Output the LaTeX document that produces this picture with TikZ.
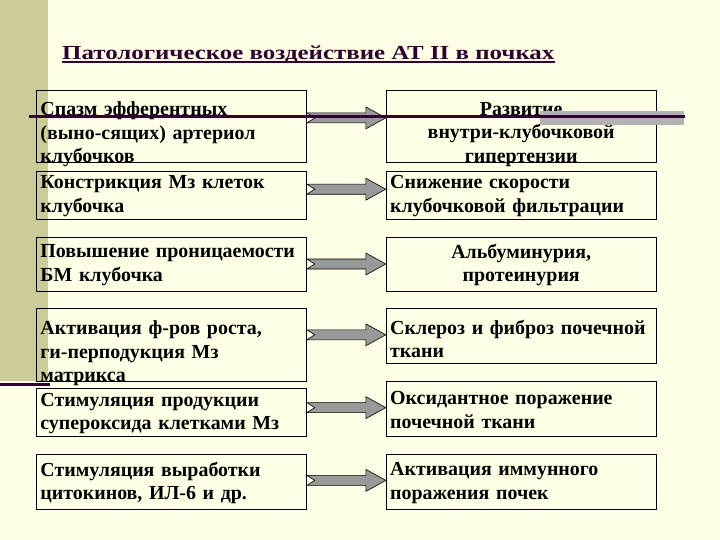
\documentclass[tikz,border=0pt]{standalone}
\usepackage{fontspec}
\setmainfont{Liberation Serif}
\newfontfamily\titlefont[FakeStretch=1.25]{Liberation Serif}
\usetikzlibrary{positioning, calc}
\definecolor{bgcol}{HTML}{FFFFE5}
\definecolor{bandcol}{HTML}{CCCC99}
\definecolor{darkcol}{HTML}{330033}
\definecolor{arrowcol}{HTML}{999999}
\definecolor{barcol}{HTML}{B2B2B2}

\begin{document}
\begin{tikzpicture}[
  x=1bp, y=-1bp,
  box/.style={
    draw, line width=0.8bp,
    minimum width=270bp, text width=262bp,
    inner xsep=4bp, inner ysep=0pt,
    font=\bfseries\fontsize{20}{23.5}\selectfont
  },
  lbox/.style={box, align=left},
  cbox/.style={box, align=center},
  textdrop/.style={execute at end node={\endgraf\kern-#1}},
  textdrop/.default=2bp,
  title/.style={text=darkcol, inner sep=0pt,
                font=\titlefont\bfseries\fontsize{20}{24}\selectfont},
  blockarrow/.style={
    draw=black, fill=arrowcol, line width=0.6bp,
    to path={let \p1=(\tikztostart), \p2=(\tikztotarget) in
      (\x1,{\y1+5bp}) -- ({\x2-20bp},{\y1+5bp}) -- ({\x2-20bp},{\y1+11bp})
      -- (\x2,\y1) -- ({\x2-20bp},{\y1-11bp}) -- ({\x2-20bp},{\y1-5bp})
      -- (\x1,{\y1-5bp}) -- ({\x1+8bp},\y1) -- cycle}
  },
  thickline/.style={draw=darkcol, line width=3bp}
]

%% -- slide background -----------------------------------------
\useasboundingbox (0,0) rectangle (720,540);
\fill[bgcol] (0,0) rectangle (720,540);
\fill[bandcol] (0,0) rectangle (48,381);
\draw[thickline] (0,384) -- (50,384);

%% -- title ----------------------------------------------------
\node[title, anchor=base west] (title) at (62,59.5)
      {Патологическое воздействие АТ II в почках};
\draw[darkcol, line width=1.6bp]
      ([yshift=-2.5bp]title.base west) -- ([yshift=-2.5bp]title.base east);

%% -- causes (left column) -------------------------------------
\node[lbox, textdrop=16bp, minimum height=72bp, anchor=north west] (l1)
      at (36,90) {Спазм эфферентных\\(выно-сящих) артериол\\клубочков};
\node[lbox, textdrop, minimum height=48bp, below=8bp of l1] (l2)
      {Констрикция Мз клеток\\клубочка};
\node[lbox, textdrop, minimum height=54bp, below=17bp of l2] (l3)
      {Повышение проницаемости\\БМ клубочка};
\node[lbox, textdrop=16bp, minimum height=73bp, below=17bp of l3] (l4)
      {Активация ф-ров роста,\\ги-перподукция Мз\\матрикса};
\node[lbox, textdrop, minimum height=48bp, below=6bp of l4] (l5)
      {Стимуляция продукции\\супероксида клетками Мз};
\node[lbox, textdrop, minimum height=55bp, below=17bp of l5] (l6)
      {Стимуляция выработки\\цитокинов, ИЛ-6 и др.};

%% -- effects (right column) -----------------------------------
\node[cbox, textdrop=16bp, minimum height=72bp, right=79bp of l1] (r1)
      {Развитие\\внутри-клубочковой\\гипертензии};
\node[lbox, textdrop, minimum height=48bp, right=79bp of l2] (r2)
      {Снижение скорости\\клубочковой фильтрации};
\node[cbox, textdrop, minimum height=54bp, right=79bp of l3] (r3)
      {Альбуминурия,\\протеинурия};
\node[lbox, textdrop=5bp, minimum height=55bp, right=79bp of l4.north east,
      anchor=north west] (r4)
      {Склероз и фиброз почечной\\ткани};
\node[lbox, textdrop, minimum height=55bp, right=79bp of l5.south east,
      anchor=south west] (r5)
      {Оксидантное поражение\\почечной ткани};
\node[lbox, textdrop, minimum height=55bp, right=79bp of l6] (r6)
      {Активация иммунного\\поражения почек};

%% -- arrows ---------------------------------------------------
\draw[blockarrow] ([yshift=8.5bp]l1.east) to (r1.west);
\draw[blockarrow] ([yshift=6bp]l2.east) to (r2.west);
\draw[blockarrow] (l3.east) to (r3.west);
\draw[blockarrow] ([yshift=10.5bp]l4.east) to (r4.west);
\draw[blockarrow] ([yshift=5bp]l5.east) to (r5.west);
\draw[blockarrow] ([yshift=1.5bp]l6.east) to (r6.west);

%% -- top rule -------------------------------------------------
\fill[barcol] (540,111.5) rectangle (684,125.5);
\draw[thickline] (29,117) -- (685,117);

\end{tikzpicture}
\end{document}
